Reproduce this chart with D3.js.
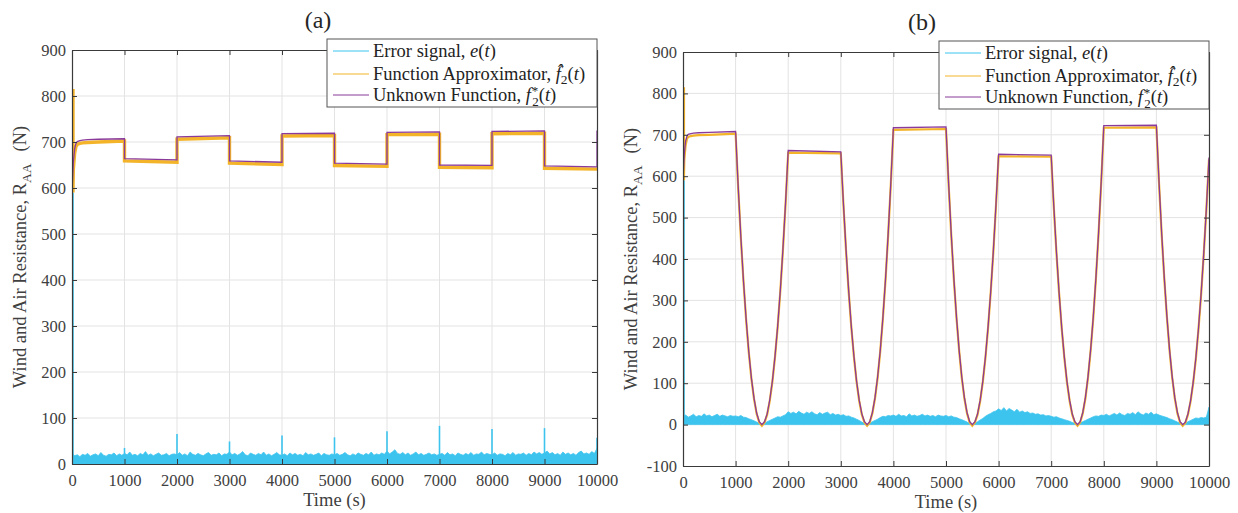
<!DOCTYPE html>
<html>
<head>
<meta charset="utf-8">
<script src="https://cdn.jsdelivr.net/npm/d3@7"></script>
<style>
body { margin: 0; background: #fff; }
svg text { font-family: 'Liberation Serif', 'Times New Roman', Times, serif; }
</style>
</head>
<body>
<svg id="chart" width="1238" height="513"></svg>
<script>
const svg = d3.select("#chart");

const cyan = "#3dc4ee";
const orange = "#f3b42a";
const purple = "#8a3a9a";
const axisColor = "#3a3a3a";
const serif = "'Liberation Serif', 'Times New Roman', Times, serif";

// ticks
const xTicks = [0, 1000, 2000, 3000, 4000, 5000, 6000, 7000, 8000, 9000, 10000];
const yTicksA = [0, 100, 200, 300, 400, 500, 600, 700, 800, 900];
const yTicksB = [-100, 0, 100, 200, 300, 400, 500, 600, 700, 800, 900];

// (a) unknown function f2*(t): step profile
const tUnknownA = [0, 25, 50, 75, 100, 150, 200, 300, 500, 1000, 1000, 2000, 2000, 3000, 3000, 4000, 4000, 5000, 5000, 6000, 6000, 7000, 7000, 8000, 8000, 9000, 9000, 10000, 10000];
const unknownA = [590, 655, 685, 697, 701, 703, 704, 705, 706, 707, 664, 661, 711, 714, 659, 656, 718, 719, 654, 652, 721, 722, 650, 649, 723, 724, 648, 646, 725];

// (a) function approximator
const tApproxA = [0, 0, 0, 25, 50, 75, 100, 150, 200, 300, 500, 1000, 1000, 2000, 2000, 3000, 3000, 4000, 4000, 5000, 5000, 6000, 6000, 7000, 7000, 8000, 8000, 9000, 9000, 10000];
const approxA = [590, 815, 600, 640, 675, 690, 695, 697, 698, 699, 700, 702, 659, 656, 706, 709, 654, 651, 713, 714, 649, 647, 716, 717, 645, 644, 718, 719, 643, 641];

// (a) error signal envelope, one value every 50 s
const errA = [
  24, 18, 20, 16, 21, 19, 23, 17, 20, 22, 18, 25, 19, 17, 21, 20, 24, 18, 22, 19,
  23, 20, 26, 19, 21, 18, 23, 20, 27, 19, 22, 18, 21, 24, 19, 20, 23, 18, 21, 22,
  20, 25, 19, 22, 18, 26, 21, 19, 23, 20, 18, 22, 25, 19, 21, 20, 24, 18, 22, 21,
  26, 20, 23, 19, 22, 27, 20, 18, 24, 21, 19, 23, 20, 26, 19, 22, 18, 21, 25, 20,
  19, 22, 18, 24, 20, 23, 19, 21, 18, 25, 20, 22, 19, 21, 24, 18, 23, 20, 19, 22,
  20, 23, 19, 21, 25, 20, 18, 22, 19, 24, 21, 19, 23, 20, 26, 19, 22, 20, 24, 21,
  28, 22, 26, 31, 23, 21, 25, 20, 24, 19, 22, 26, 20, 23, 19, 21, 24, 20, 22, 19,
  21, 23, 19, 25, 20, 22, 18, 24, 21, 19, 23, 20, 25, 19, 22, 21, 26, 20, 23, 21,
  20, 24, 19, 22, 21, 18, 23, 20, 25, 19, 22, 21, 24, 19, 23, 20, 26, 22, 25, 21,
  24, 28, 22, 25, 20, 23, 19, 26, 21, 24, 20, 23, 19, 25, 28, 22, 24, 21, 27, 23,
  34
];
const spikeTimesA = [0, 1000, 2000, 3000, 4000, 5000, 6000, 7000, 8000, 9000, 10000];
const spikesA = [590, 35, 65, 49, 62, 58, 71, 83, 76, 78, 57];

// (b) unknown function: plateaus joined by parabolic dips
const tUnknownB = [0, 25, 50, 75, 100, 150, 200, 300, 500,
  1000, 1050, 1100, 1150, 1200, 1250, 1300, 1350, 1400, 1450, 1500, 1550, 1600, 1650, 1700, 1750, 1800, 1850, 1900, 1950, 2000,
  3000, 3050, 3100, 3150, 3200, 3250, 3300, 3350, 3400, 3450, 3500, 3550, 3600, 3650, 3700, 3750, 3800, 3850, 3900, 3950, 4000,
  5000, 5050, 5100, 5150, 5200, 5250, 5300, 5350, 5400, 5450, 5500, 5550, 5600, 5650, 5700, 5750, 5800, 5850, 5900, 5950, 6000,
  7000, 7050, 7100, 7150, 7200, 7250, 7300, 7350, 7400, 7450, 7500, 7550, 7600, 7650, 7700, 7750, 7800, 7850, 7900, 7950, 8000,
  9000, 9050, 9100, 9150, 9200, 9250, 9300, 9350, 9400, 9450, 9500, 9550, 9600, 9650, 9700, 9750, 9800, 9850, 9900, 9950, 10000];
const unknownB = [590, 655, 685, 697, 701, 703, 704, 705, 706,
  708, 573, 453, 347, 255, 177, 113, 64, 28, 7, 0, 7, 26, 60, 106, 166, 238, 324, 424, 536, 662,
  659, 534, 422, 323, 237, 165, 105, 59, 26, 7, 0, 7, 29, 65, 115, 179, 258, 351, 459, 581, 717,
  719, 582, 460, 352, 259, 180, 115, 65, 29, 7, 0, 7, 26, 59, 105, 164, 236, 321, 419, 531, 653,
  651, 527, 417, 319, 234, 163, 104, 59, 26, 7, 0, 7, 29, 65, 116, 181, 260, 354, 462, 585, 722,
  723, 586, 463, 355, 261, 181, 116, 65, 29, 7, 0, 6, 26, 58, 103, 161, 232, 316, 413, 522, 645];

const tApproxB = [0, 0, 0].concat(tUnknownB.slice(1));
const approxB = [590, 815, 600, 640, 675, 690, 695, 697, 698, 699, 700,
  703, 570, 450, 345, 253, 175, 111, 62, 26, 5, -3, 5, 24, 58, 104, 164, 236, 322, 422, 533, 657,
  655, 531, 419, 320, 235, 163, 103, 57, 24, 5, -3, 5, 27, 63, 113, 177, 256, 349, 457, 578, 712,
  714, 579, 457, 349, 257, 178, 113, 63, 27, 5, -3, 5, 24, 57, 103, 162, 234, 319, 417, 528, 648,
  647, 524, 414, 317, 232, 161, 102, 57, 24, 5, -3, 5, 27, 63, 114, 179, 258, 352, 460, 582, 717,
  718, 583, 460, 352, 259, 179, 114, 63, 27, 5, -3, 4, 24, 56, 101, 159, 230, 314, 411, 519, 641];

// (b) error signal envelope, one value every 50 s
const errB = [
  20, 23, 18, 21, 25, 19, 22, 20, 26, 21, 23, 19, 22, 25, 20, 23, 21, 19, 22, 20,
  21, 19, 22, 18, 17, 14, 12, 9, 6, 3, 1, 3, 7, 10, 13, 16, 19, 18, 21, 24,
  31, 27, 30, 26, 32, 28, 25, 30, 27, 31, 26, 24, 29, 25, 28, 30, 24, 27, 23, 25,
  22, 24, 20, 21, 18, 16, 13, 10, 6, 3, 1, 3, 7, 10, 13, 17, 20, 19, 22, 21,
  23, 20, 25, 21, 22, 19, 26, 21, 23, 20, 22, 25, 21, 23, 20, 22, 19, 23, 21, 20,
  22, 19, 21, 18, 17, 14, 12, 9, 6, 3, 1, 3, 7, 11, 15, 20, 24, 27, 31, 33,
  38, 34, 41, 33, 39, 35, 31, 37, 30, 33, 29, 31, 27, 28, 25, 26, 23, 24, 21, 22,
  20, 18, 19, 16, 14, 12, 10, 8, 5, 3, 1, 3, 7, 10, 13, 16, 19, 21, 20, 23,
  22, 25, 21, 24, 27, 23, 28, 24, 22, 27, 25, 29, 24, 31, 26, 23, 28, 25, 30, 24,
  26, 23, 21, 19, 17, 14, 12, 9, 6, 3, 1, 3, 7, 10, 13, 16, 15, 17, 16, 18,
  42
];
const spikeTimesB = [0];
const spikesB = [590];

const errTimes = d3.range(0, 10001, 50);

const panels = [
  { id: "a", x0: 72, x1: 597, y0: 50, y1: 464, yDomain: [0, 900], yTicks: yTicksA,
    title: "(a)", titleX: 318, titleY: 28, labelX: 26, approxWidth: 3.4,
    tU: tUnknownA, u: unknownA, tF: tApproxA, f: approxA, err: errA, tS: spikeTimesA, s: spikesA,
    legend: { x: 327, y: 39 } },
  { id: "b", x0: 683, x1: 1209, y0: 52, y1: 466, yDomain: [-100, 900], yTicks: yTicksB,
    title: "(b)", titleX: 922, titleY: 30, labelX: 637, approxWidth: 2.2,
    tU: tUnknownB, u: unknownB, tF: tApproxB, f: approxB, err: errB, tS: spikeTimesB, s: spikesB,
    legend: { x: 939, y: 41 } }
];

const drawPanel = (p) => {
  const x = d3.scaleLinear().domain([0, 10000]).range([p.x0, p.x1]);
  const y = d3.scaleLinear().domain(p.yDomain).range([p.y1, p.y0]);
  const g = svg.append("g");

  g.append("clipPath").attr("id", "clip-" + p.id)
    .append("rect")
      .attr("x", p.x0).attr("y", p.y0)
      .attr("width", p.x1 - p.x0).attr("height", p.y1 - p.y0);

  // grid
  g.append("g").selectAll("line").data(xTicks.slice(1, -1)).enter().append("line")
    .attr("x1", d => x(d)).attr("x2", d => x(d))
    .attr("y1", p.y0).attr("y2", p.y1)
    .attr("stroke", "#e3e3e3").attr("stroke-width", 1);
  g.append("g").selectAll("line").data(p.yTicks.slice(1, -1)).enter().append("line")
    .attr("x1", p.x0).attr("x2", p.x1)
    .attr("y1", d => y(d)).attr("y2", d => y(d))
    .attr("stroke", "#e3e3e3").attr("stroke-width", 1);

  const plot = g.append("g").attr("clip-path", `url(#clip-${p.id})`);

  // error signal
  plot.append("path")
    .datum(p.err)
    .attr("fill", cyan)
    .attr("stroke", cyan)
    .attr("stroke-width", 0.8)
    .attr("d", d3.area()
      .x((d, i) => x(errTimes[i]))
      .y0(y(0))
      .y1(d => y(d)));
  plot.append("g").selectAll("line").data(p.s).enter().append("line")
    .attr("x1", (d, i) => x(p.tS[i]) + (p.tS[i] === 0 ? 1 : 0))
    .attr("x2", (d, i) => x(p.tS[i]) + (p.tS[i] === 0 ? 1 : 0))
    .attr("y1", y(0)).attr("y2", d => y(d))
    .attr("stroke", cyan).attr("stroke-width", 1.6);

  // function approximator
  plot.append("path")
    .datum(p.f)
    .attr("fill", "none")
    .attr("stroke", orange)
    .attr("stroke-width", p.approxWidth)
    .attr("d", d3.line().x((d, i) => x(p.tF[i]) + (p.tF[i] === 0 ? 1 : 0)).y(d => y(d)));

  // unknown function
  plot.append("path")
    .datum(p.u)
    .attr("fill", "none")
    .attr("stroke", purple)
    .attr("stroke-width", 1.3)
    .attr("d", d3.line().x((d, i) => x(p.tU[i])).y(d => y(d)));

  // axes (box with inward ticks)
  const fmt = d => String(d);
  const bottom = g.append("g").attr("transform", `translate(0,${p.y1})`)
    .call(d3.axisBottom(x).tickValues(xTicks).tickFormat(fmt).tickSizeInner(-5).tickSizeOuter(0).tickPadding(10));
  const top = g.append("g").attr("transform", `translate(0,${p.y0})`)
    .call(d3.axisTop(x).tickValues(xTicks).tickSizeInner(-5).tickSizeOuter(0).tickFormat(""));
  const left = g.append("g").attr("transform", `translate(${p.x0},0)`)
    .call(d3.axisLeft(y).tickValues(p.yTicks).tickFormat(fmt).tickSizeInner(-5).tickSizeOuter(0).tickPadding(6));
  const right = g.append("g").attr("transform", `translate(${p.x1},0)`)
    .call(d3.axisRight(y).tickValues(p.yTicks).tickSizeInner(-5).tickSizeOuter(0).tickFormat(""));

  [bottom, top, left, right].forEach(a => {
    a.attr("font-family", null).attr("font-size", null);
    a.select(".domain").attr("stroke", axisColor).attr("stroke-width", 1.2);
    a.selectAll(".tick line").attr("stroke", axisColor);
    a.selectAll(".tick text")
      .attr("fill", "#404040")
      .style("font-family", serif)
      .style("font-size", "16.5px");
  });

  // title
  svg.append("text")
    .attr("x", p.titleX).attr("y", p.titleY)
    .attr("text-anchor", "middle")
    .style("font-family", serif)
    .style("font-size", "24px")
    .attr("fill", "#262626")
    .text(p.title);

  // x label
  svg.append("text")
    .attr("x", (p.x0 + p.x1) / 2).attr("y", p.y1 + 42)
    .attr("text-anchor", "middle")
    .style("font-family", serif)
    .style("font-size", "18.5px")
    .attr("fill", "#404040")
    .text("Time (s)");

  // y label
  const yl = svg.append("text")
    .attr("transform", `translate(${p.labelX},${(p.y0 + p.y1) / 2}) rotate(-90)`)
    .attr("text-anchor", "middle")
    .style("font-family", serif)
    .style("font-size", "18.5px")
    .attr("fill", "#404040");
  yl.append("tspan").text("Wind and Air Resistance, R");
  yl.append("tspan").style("font-size", "13.5px").attr("dy", 5).text("AA");
  yl.append("tspan").attr("dy", -5).attr("dx", 12).text("(N)");

  // legend
  const lg = svg.append("g").attr("transform", `translate(${p.legend.x},${p.legend.y})`);
  lg.append("rect")
    .attr("width", 270).attr("height", 68)
    .attr("fill", "#fff")
    .attr("stroke", "#555").attr("stroke-width", 1);
  const rows = [
    { color: cyan, y: 12 },
    { color: orange, y: 35 },
    { color: purple, y: 56 }
  ];
  lg.selectAll(".sample").data(rows).enter().append("line")
    .attr("x1", 6).attr("x2", 42)
    .attr("y1", d => d.y).attr("y2", d => d.y)
    .attr("stroke", d => d.color).attr("stroke-width", 1);

  const legendText = (yy) => lg.append("text").attr("x", 46).attr("y", yy).attr("dy", "0.35em")
    .style("font-family", serif).style("font-size", "18.5px").attr("fill", "#222");

  const t1 = legendText(12);
  t1.append("tspan").text("Error signal, ");
  t1.append("tspan").attr("font-style", "italic").text("e");
  t1.append("tspan").text("(");
  t1.append("tspan").attr("font-style", "italic").text("t");
  t1.append("tspan").text(")");

  const t2 = legendText(35);
  t2.append("tspan").text("Function Approximator, ");
  t2.append("tspan").attr("font-style", "italic").text("f\u0302");
  t2.append("tspan").attr("dy", 4).style("font-size", "13.5px").text("2");
  t2.append("tspan").attr("dy", -4).text("(");
  t2.append("tspan").attr("font-style", "italic").text("t");
  t2.append("tspan").text(")");

  const t3 = legendText(56);
  t3.append("tspan").text("Unknown Function, ");
  t3.append("tspan").attr("font-style", "italic").text("f");
  t3.append("tspan").attr("dx", 1).attr("dy", -6).style("font-size", "13px").text("*");
  t3.append("tspan").attr("dx", -6).attr("dy", 11).style("font-size", "13px").text("2");
  t3.append("tspan").attr("dy", -5).text("(");
  t3.append("tspan").attr("font-style", "italic").text("t");
  t3.append("tspan").text(")");
};

panels.forEach(drawPanel);
</script>
</body>
</html>
